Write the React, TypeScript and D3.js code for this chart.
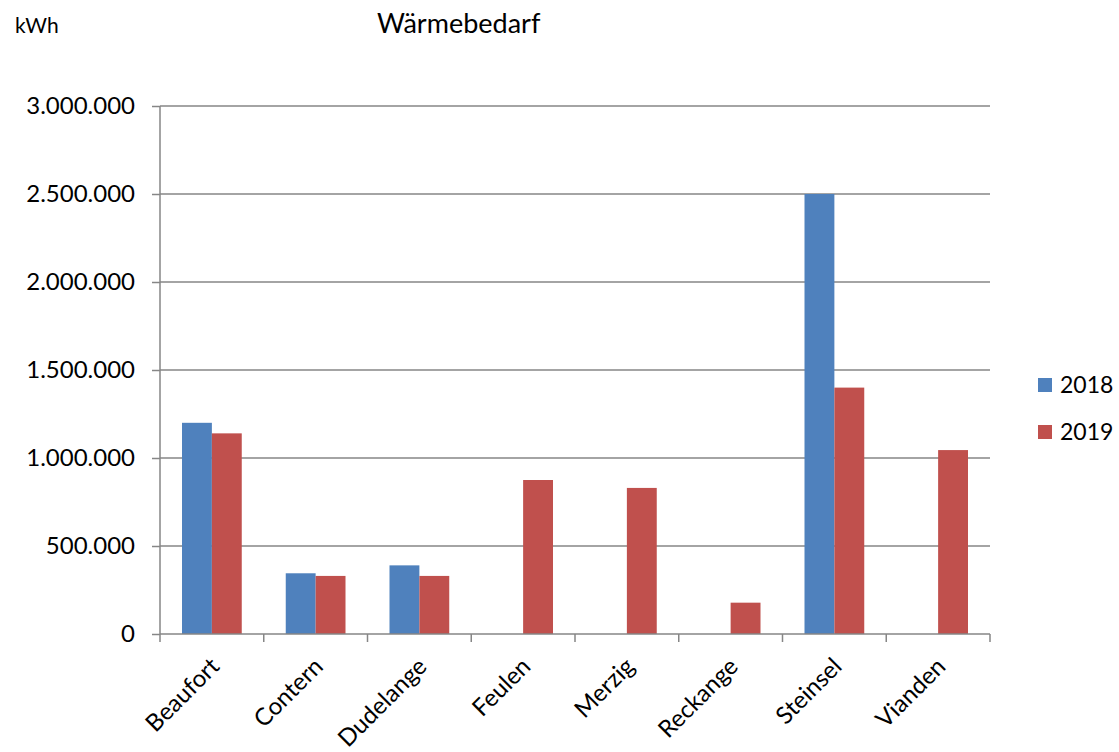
import React, { useEffect, useRef } from "react";
import * as d3 from "d3";

const categories = ["Beaufort", "Contern", "Dudelange", "Feulen", "Merzig", "Reckange", "Steinsel", "Vianden"];
const seriesNames = ["2018", "2019"];
const values2018 = [1200000, 345000, 390000, 0, 0, 0, 2500000, 0];
const values2019 = [1140000, 330000, 330000, 875000, 830000, 178000, 1400000, 1045000];
const yTicks = [0, 500000, 1000000, 1500000, 2000000, 2500000, 3000000];
const colors = ["#4F81BD", "#C0504D"];

const W = 1119;
const H = 752;
const FONT = "Lato, 'Open Sans', sans-serif";

export default function App() {
    const svgRef = useRef<SVGSVGElement>(null);

    useEffect(() => {
        if (!svgRef.current) return;
        const svg = d3.select(svgRef.current);
        svg.selectAll("*").remove();

        const left = 160, right = 990, top = 106, bottom = 634;

        const x = d3.scaleBand<string>().domain(categories).range([left, right]);
        const inner = d3.scaleBand<string>().domain(seriesNames).range([22, x.bandwidth() - 22]);
        const y = d3.scaleLinear().domain([0, 3000000]).range([bottom, top]);

        const fmt = (v: number) => d3.format(",")(v).replace(/,/g, ".");

        // gridlines
        svg.append("g")
            .selectAll("line")
            .data(yTicks.filter(t => t > 0))
            .join("line")
            .attr("x1", left).attr("x2", right)
            .attr("y1", d => y(d)).attr("y2", d => y(d))
            .attr("stroke", "#868686").attr("stroke-width", 1.5);

        // bars
        const rows = categories.map((c, i) => ({ c, vals: [values2018[i], values2019[i]] }));
        const grp = svg.append("g").selectAll("g").data(rows).join("g")
            .attr("transform", d => `translate(${x(d.c)},0)`);
        grp.selectAll("rect")
            .data(d => d.vals.map((v, k) => ({ k, v })).filter(e => e.v > 0))
            .join("rect")
            .attr("x", d => inner(seriesNames[d.k])!)
            .attr("width", inner.bandwidth())
            .attr("y", d => y(d.v))
            .attr("height", d => bottom - y(d.v))
            .attr("fill", d => colors[d.k]);

        // y axis
        const yAxis = svg.append("g").attr("transform", `translate(${left},0)`)
            .call(d3.axisLeft(y).tickValues(yTicks).tickFormat(d => fmt(+d)).tickSize(8).tickPadding(17));
        yAxis.select(".domain").attr("stroke", "#868686").attr("stroke-width", 1.5).attr("d", `M0,${top}V${bottom}`);
        yAxis.selectAll(".tick line").attr("stroke", "#868686").attr("stroke-width", 1.5);
        yAxis.selectAll(".tick text").attr("fill", "#000").style("font-family", FONT).style("font-size", "24px");

        // x axis
        const xAxis = svg.append("g").attr("transform", `translate(0,${bottom})`);
        xAxis.append("line").attr("x1", left).attr("x2", right).attr("y1", 0).attr("y2", 0)
            .attr("stroke", "#868686").attr("stroke-width", 1.5);
        const edges = categories.map(c => x(c)!).concat([right]);
        xAxis.selectAll("line.tk").data(edges).join("line").attr("class", "tk")
            .attr("x1", d => d).attr("x2", d => d).attr("y1", 0).attr("y2", 8)
            .attr("stroke", "#868686").attr("stroke-width", 1.5);
        xAxis.selectAll("text").data(categories).join("text")
            .attr("transform", d => `translate(${x(d)! + x.bandwidth() / 2 + 3},${28}) rotate(-45)`)
            .attr("text-anchor", "end")
            .attr("dy", "0.35em")
            .style("font-family", FONT).style("font-size", "24px")
            .text(d => d);

        // titles
        svg.append("text").attr("x", 15).attr("y", 33).text("kWh")
            .style("font-family", FONT).style("font-size", "21px");
        svg.append("text").attr("x", 377).attr("y", 33).text("Wärmebedarf")
            .style("font-family", FONT).style("font-size", "27px");

        // legend
        const leg = svg.append("g").selectAll("g").data(seriesNames).join("g")
            .attr("transform", (d, i) => `translate(1038,${378 + i * 47})`);
        leg.append("rect").attr("width", 14).attr("height", 14).attr("fill", (d, i) => colors[i]);
        leg.append("text").attr("x", 22).attr("y", 7).attr("dy", "0.35em").text(d => d)
            .style("font-family", FONT).style("font-size", "23px");
    }, []);

    return (
        <svg ref={svgRef} width={W} height={H} style={{ display: "block", position: "absolute", left: 0, top: 0, background: "#fff" }} />
    );
}
